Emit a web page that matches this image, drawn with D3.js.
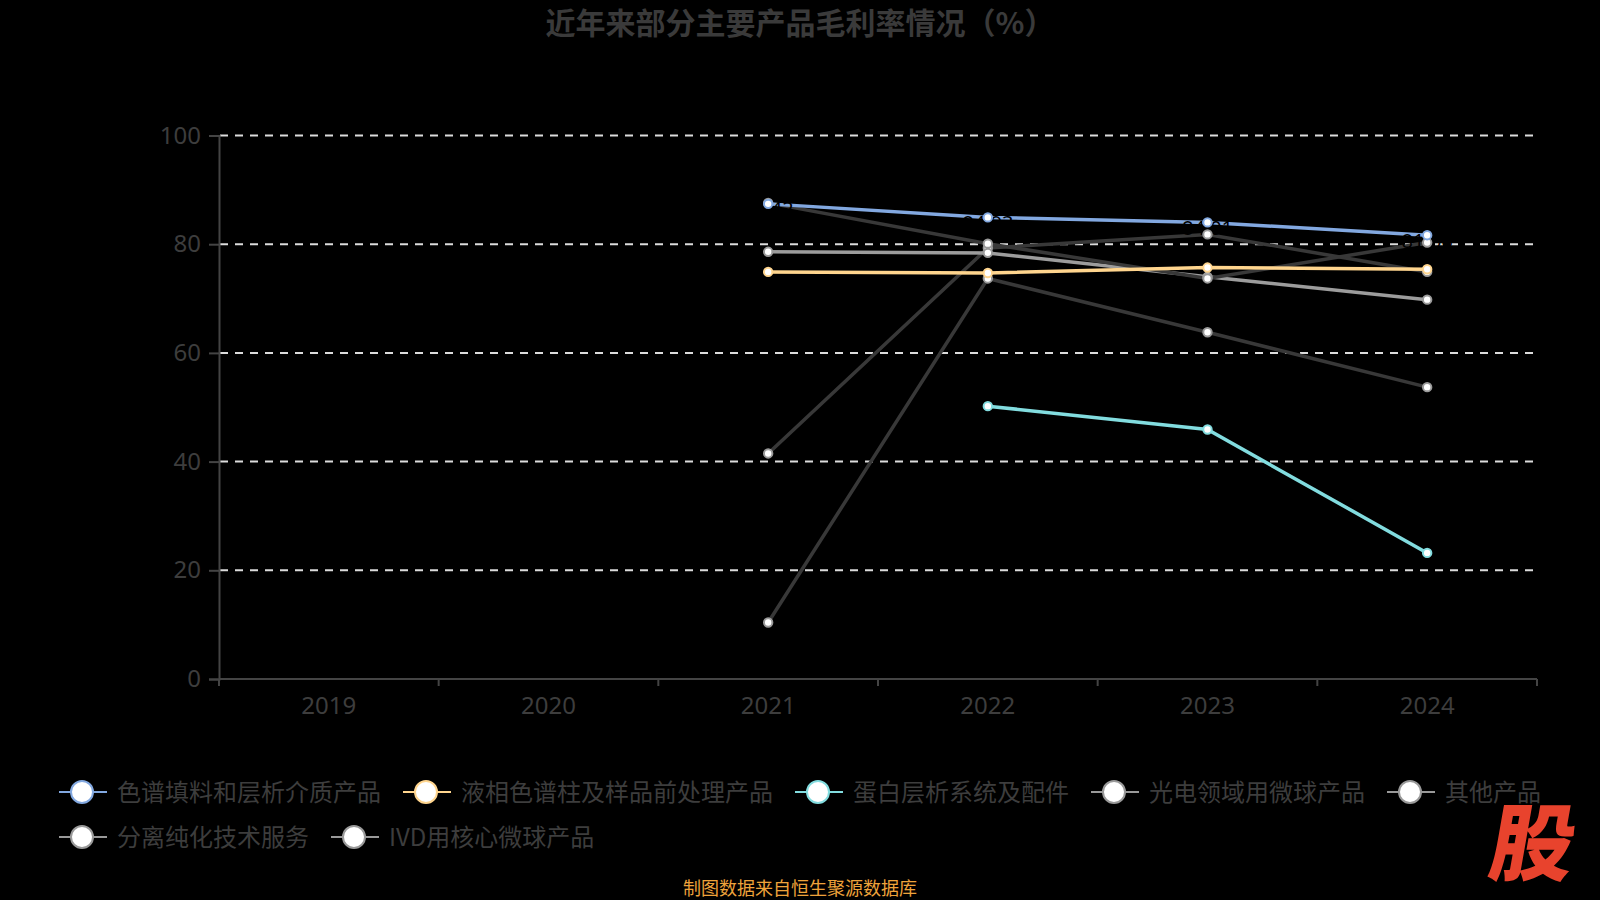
<!DOCTYPE html>
<html lang="zh">
<head>
<meta charset="UTF-8">
<title>近年来部分主要产品毛利率情况</title>
<script src="https://cdn.jsdelivr.net/npm/d3@7"></script>
<style>
  body { margin: 0; background: #000; }
  svg { display: block; font-family: "Noto Sans CJK SC", "Noto Sans", sans-serif; }
</style>
</head>
<body>
<div id="chart"></div>
<script>
// categories and values
const years = ["2019", "2020", "2021", "2022", "2023", "2024"];
const yTicks = [0, 20, 40, 60, 80, 100];

const names = ["色谱填料和层析介质产品", "液相色谱柱及样品前处理产品", "蛋白层析系统及配件",
  "光电领域用微球产品", "其他产品", "分离纯化技术服务", "IVD用核心微球产品"];

const chromatoFill = [null, null, 87.42, 84.93, 84.01, 81.66];
const lcColumns = [null, null, 74.9, 74.7, 75.7, 75.4];
const proteinSys = [null, null, null, 50.2, 45.9, 23.2];
const optoMicro = [null, null, 87.6, 80.1, 73.7, 80.3];
const otherProd = [null, null, 78.6, 78.4, 74.0, 69.8];
const sepService = [null, null, 41.5, 79.3, 81.8, 74.9];
const ivdMicro = [null, null, 10.4, 73.7, 63.8, 53.7];

const seriesValues = [chromatoFill, lcColumns, proteinSys, optoMicro, otherProd, sepService, ivdMicro];
const lineColors = ["#82a8e0", "#ffd58e", "#82dcdf", "#383838", "#9c9c9c", "#383838", "#383838"];
const markColors = ["#82a8e0", "#ffd58e", "#82dcdf", "#9a9a9a", "#9a9a9a", "#9a9a9a", "#9a9a9a"];

const W = 1600, H = 900;
const textColor = "#3d3d3d";

const svg = d3.select("#chart").append("svg")
  .attr("width", W).attr("height", H);

svg.append("rect").attr("width", W).attr("height", H).attr("fill", "#000");

// title
svg.append("text")
  .attr("x", 800).attr("y", 34)
  .attr("text-anchor", "middle")
  .attr("font-size", 30).attr("font-weight", "bold")
  .attr("fill", "#3a3a3a")
  .text("近年来部分主要产品毛利率情况（%）");

// scales
const x = d3.scaleBand().domain(years).range([219, 1537]).padding(0);
const y = d3.scaleLinear().domain([0, 100]).range([679, 135.5]);
const cx = d => x(d) + x.bandwidth() / 2;

// grid lines
svg.append("g")
  .selectAll("line")
  .data(yTicks.filter(t => t > 0))
  .enter().append("line")
  .attr("x1", 220).attr("x2", 1537)
  .attr("y1", d => y(d)).attr("y2", d => y(d))
  .attr("stroke", "#dcdcdc")
  .attr("stroke-width", 2)
  .attr("stroke-dasharray", "8,7");

// y axis
const yAxis = svg.append("g")
  .attr("transform", "translate(219,0)")
  .call(d3.axisLeft(y).tickValues(yTicks).tickSize(10).tickPadding(8));
yAxis.select(".domain").attr("stroke", "#444").attr("stroke-width", 2);
yAxis.selectAll(".tick line").attr("stroke", "#444").attr("stroke-width", 2);
yAxis.selectAll(".tick text")
  .attr("fill", textColor).attr("font-size", 24)
  .attr("font-family", "'Noto Sans', sans-serif");

// x axis
svg.append("line")
  .attr("x1", 219).attr("x2", 1537)
  .attr("y1", y(0)).attr("y2", y(0))
  .attr("stroke", "#444").attr("stroke-width", 2);

const bounds = years.map(d => x(d)).concat([x.range()[1]]);
svg.append("g").selectAll("line")
  .data(bounds)
  .enter().append("line")
  .attr("x1", d => d).attr("x2", d => d)
  .attr("y1", y(0)).attr("y2", y(0) + 7)
  .attr("stroke", "#444").attr("stroke-width", 2);

svg.append("g").selectAll("text")
  .data(years)
  .enter().append("text")
  .attr("x", d => cx(d)).attr("y", 714)
  .attr("text-anchor", "middle")
  .attr("font-size", 24)
  .attr("font-family", "'Noto Sans', sans-serif")
  .attr("fill", textColor)
  .text(d => d);

// lines
const line = d3.line()
  .defined(d => d.v != null)
  .x(d => cx(d.year))
  .y(d => y(d.v));

const drawOrder = [6, 5, 4, 3, 2, 1, 0];
drawOrder.forEach(i => {
  const pts = years.map((yr, j) => ({ year: yr, v: seriesValues[i][j] }));
  svg.append("path")
    .datum(pts)
    .attr("fill", "none")
    .attr("stroke", lineColors[i])
    .attr("stroke-width", 3.5)
    .attr("d", line);
});

// data labels on the first series (black text, only seen where it crosses the line)
svg.append("g").selectAll("text")
  .data(years.map((yr, j) => ({ year: yr, v: chromatoFill[j] })).filter(d => d.v != null))
  .enter().append("text")
  .attr("x", d => cx(d.year)).attr("y", d => y(d.v) + 12.5)
  .attr("text-anchor", "middle")
  .attr("font-size", 20)
  .attr("font-family", "'Noto Sans', sans-serif")
  .attr("fill", "#000")
  .text(d => d.v.toFixed(2));

// markers
drawOrder.forEach(i => {
  const pts = years.map((yr, j) => ({ year: yr, v: seriesValues[i][j] })).filter(d => d.v != null);
  svg.append("g").selectAll("circle")
    .data(pts)
    .enter().append("circle")
    .attr("cx", d => cx(d.year)).attr("cy", d => y(d.v))
    .attr("r", 4.2)
    .attr("fill", "#fff")
    .attr("stroke", markColors[i])
    .attr("stroke-width", 2);
});

// legend
const legendColors = ["#82a8e0", "#ffd58e", "#82dcdf", "#999", "#999", "#999", "#999"];
const legend = svg.append("g");
const items = names.map((n, i) => {
  const g = legend.append("g");
  g.append("line").attr("x1", 0).attr("x2", 48).attr("y1", 0).attr("y2", 0)
    .attr("stroke", legendColors[i]).attr("stroke-width", 2);
  g.append("circle").attr("cx", 23).attr("cy", 0).attr("r", 11)
    .attr("fill", "#fff").attr("stroke", legendColors[i]).attr("stroke-width", 2);
  const t = g.append("text").attr("x", 58).attr("y", 8.5)
    .attr("font-size", 24).attr("fill", textColor).text(n);
  return { g: g, w: 58 + t.node().getComputedTextLength() };
});

const maxRow = 1500, gap = 22;
let rows = [[]], rowW = [0];
items.forEach(it => {
  let r = rows.length - 1;
  const add = (rows[r].length ? gap : 0) + it.w;
  if (rowW[r] + add > maxRow) { rows.push([]); rowW.push(0); r++; }
  rowW[r] += (rows[r].length ? gap : 0) + it.w;
  rows[r].push(it);
});
const startX = (W - d3.max(rowW)) / 2;
rows.forEach((row, r) => {
  let px = startX;
  row.forEach(it => {
    it.g.attr("transform", `translate(${px},${792 + r * 45})`);
    px += it.w + gap;
  });
});

// footer
svg.append("text")
  .attr("x", 800).attr("y", 895)
  .attr("text-anchor", "middle")
  .attr("font-size", 18)
  .attr("fill", "#eea33b")
  .text("制图数据来自恒生聚源数据库");

// watermark
svg.append("text")
  .attr("transform", "translate(1528,874) skewX(-10)")
  .attr("text-anchor", "middle")
  .attr("font-size", 84).attr("font-weight", 900)
  .attr("fill", "#e8432d")
  .text("股");
</script>
</body>
</html>
